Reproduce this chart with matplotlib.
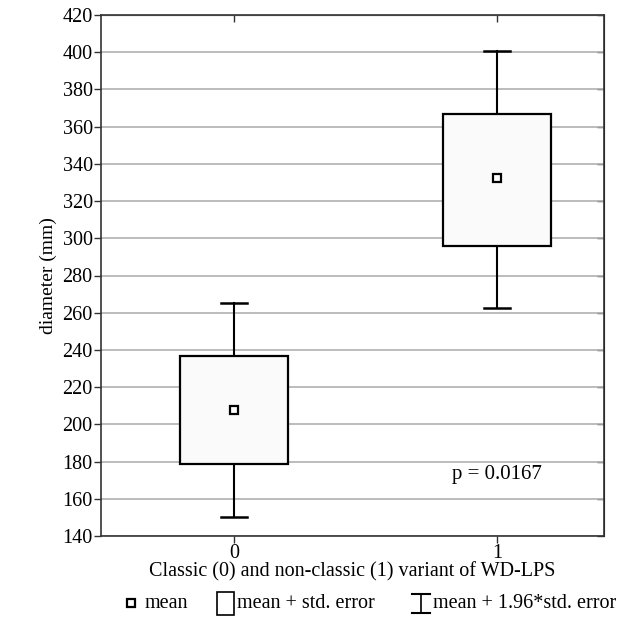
import matplotlib.pyplot as plt
from matplotlib.lines import Line2D
from matplotlib.patches import Rectangle

plt.rcParams['font.family'] = ['Liberation Serif', 'DejaVu Serif']

groups = [0, 1]
means = [207.5, 332.5]
se_low = [178.5, 296.0]
se_high = [237.0, 367.0]
ci_low = [150.0, 262.5]
ci_high = [265.0, 400.5]
p_text = "p = 0.0167"
legend_labels = ["mean", "mean + std. error", "mean + 1.96*std. error"]

W, H = 642, 635
fig = plt.figure(figsize=(W/100, H/100), dpi=100)
ax = fig.add_axes([101/W, 1 - 536/H, 503/W, 521/H])

box_w = 0.41
cap_w = 0.10
for x, m, lo, hi, wl, wh in zip(groups, means, se_low, se_high, ci_low, ci_high):
    ax.plot([x, x], [hi, wh], color='black', lw=1.5, zorder=3)
    ax.plot([x, x], [wl, lo], color='black', lw=1.5, zorder=3)
    ax.plot([x - cap_w/2, x + cap_w/2], [wh, wh], color='black', lw=1.8, zorder=3)
    ax.plot([x - cap_w/2, x + cap_w/2], [wl, wl], color='black', lw=1.8, zorder=3)
    ax.add_patch(Rectangle((x - box_w/2, lo), box_w, hi - lo, facecolor='#fafafa',
                           edgecolor='black', lw=1.6, zorder=4))
    ax.plot(x, m, marker='s', ms=6, mfc='white', mec='black', mew=1.6, zorder=5)

ax.text(1, 173, p_text, ha='center', va='center', fontsize=15)

ax.set_xlim(-0.506, 1.407)
ax.set_ylim(140, 420)
ax.set_yticks(range(140, 421, 20))
ax.set_xticks(groups)
ax.grid(axis='y', color='#b0b0b0', lw=1.2)
ax.set_axisbelow(True)
ax.tick_params(axis='both', labelsize=14.5, length=5, width=1, color='#333333', direction='out', pad=1)
for s in ax.spines.values():
    s.set_linewidth(1.2)
    s.set_color('#333333')

# inward ticks on top and right
top = ax.secondary_xaxis('top')
top.set_xticks(groups)
top.tick_params(direction='in', length=5, width=1, color='#333333', labeltop=False)
right = ax.secondary_yaxis('right')
right.set_yticks(range(140, 421, 20))
right.tick_params(direction='in', length=5, width=1, color='#333333', labelright=False)

ax.set_ylabel("diameter (mm)", fontsize=14, labelpad=4)
ax.set_xlabel("Classic (0) and non-classic (1) variant of WD-LPS", fontsize=14.5, labelpad=-1)

# legend drawn by hand in pixel positions
def px(x, y):
    return x / W, 1 - y / H

ly = 603
fig.add_artist(Line2D(*zip(px(131, ly)), marker='s', ls='none', ms=6, mfc='white',
                      mec='black', mew=1.6, transform=fig.transFigure))
fig.text(*px(145, ly), legend_labels[0], ha='left', va='center', fontsize=14.5)

bx0, by0 = px(217, 615)
fig.add_artist(Rectangle((bx0, by0), 17/W, 23/H, facecolor='white', edgecolor='black',
                         lw=1.2, transform=fig.transFigure))
fig.text(*px(237, ly), legend_labels[1], ha='left', va='center', fontsize=14.5)

cx = 421
for xs, ys, lw in [([cx, cx], [594, 613], 1.2), ([cx - 9, cx + 9], [594, 594], 1.5),
                   ([cx - 9, cx + 9], [613, 613], 1.5)]:
    fig.add_artist(Line2D([x / W for x in xs], [1 - y / H for y in ys], color='black',
                          lw=lw, transform=fig.transFigure))
fig.text(*px(433, ly), legend_labels[2], ha='left', va='center', fontsize=14.5)

fig.savefig('out.png', dpi=100)
